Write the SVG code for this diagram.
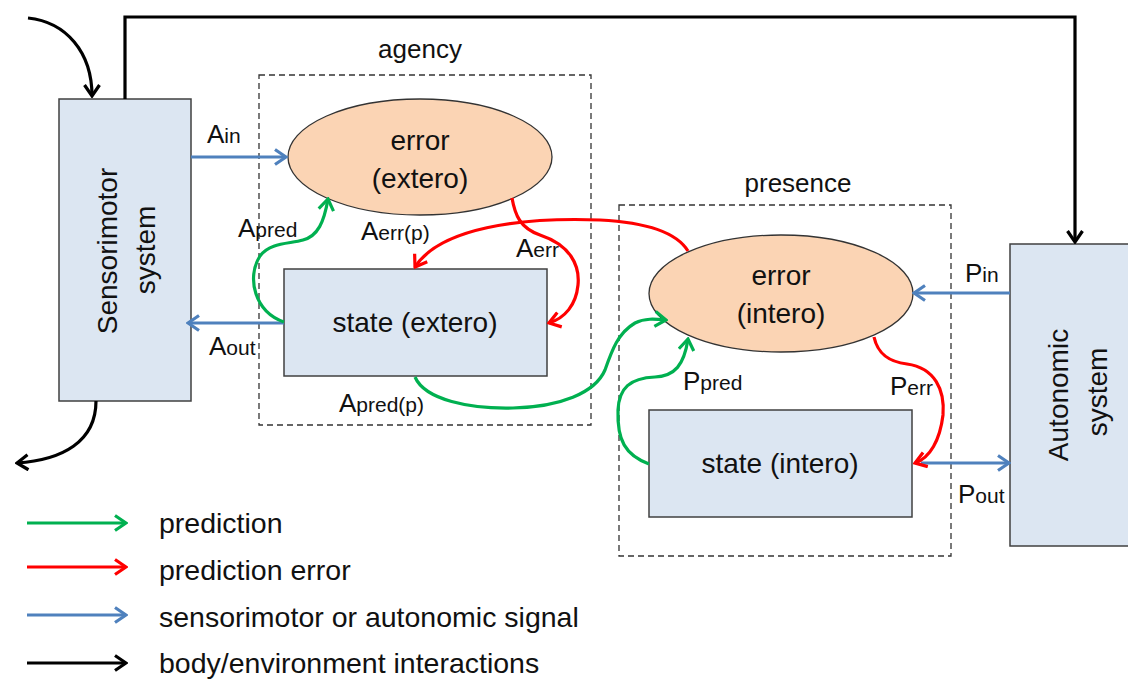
<svg xmlns="http://www.w3.org/2000/svg" width="1128" height="679" viewBox="0 0 1128 679">
<style>
text{font-family:"Liberation Sans",Arial,sans-serif;fill:#111;}
.node{font-size:28px;text-anchor:middle;}
.hdr{font-size:26px;text-anchor:middle;}
.lbl{font-size:26px;}
.sub{font-size:21px;}
.leg{font-size:28.5px;}
.box{fill:#dce6f2;stroke:#404040;stroke-width:1.5;}
.ell{fill:#fbd4b4;stroke:#333;stroke-width:1.3;}
.dash{fill:none;stroke:#333;stroke-width:1.3;stroke-dasharray:6,4;}
.c{fill:none;stroke-width:3.2;}
.g{stroke:#00b050;}
.r{stroke:#ff0000;}
.b{stroke:#4f81bd;}
.k{stroke:#000;}
</style>
<defs>
<marker id="mg" markerUnits="userSpaceOnUse" viewBox="0 0 15 18" refX="13" refY="9" markerWidth="15" markerHeight="18" orient="auto"><path d="M2,1.5 L13,9 L2,16.5" fill="none" stroke="#00b050" stroke-width="3.2"/></marker>
<marker id="mr" markerUnits="userSpaceOnUse" viewBox="0 0 15 18" refX="13" refY="9" markerWidth="15" markerHeight="18" orient="auto"><path d="M2,1.5 L13,9 L2,16.5" fill="none" stroke="#ff0000" stroke-width="3.2"/></marker>
<marker id="mb" markerUnits="userSpaceOnUse" viewBox="0 0 15 18" refX="13" refY="9" markerWidth="15" markerHeight="18" orient="auto"><path d="M2,1.5 L13,9 L2,16.5" fill="none" stroke="#4f81bd" stroke-width="3.2"/></marker>
<marker id="mk" markerUnits="userSpaceOnUse" viewBox="0 0 15 18" refX="13" refY="9" markerWidth="15" markerHeight="18" orient="auto"><path d="M2,1.5 L13,9 L2,16.5" fill="none" stroke="#000" stroke-width="3.2"/></marker>
</defs>
<rect width="1128" height="679" fill="#fff"/>

<g id="agency-group">
<rect class="dash" x="259" y="75" width="332" height="350"/>
<text class="hdr" x="420" y="58">agency</text>
</g>
<g id="presence-group">
<rect class="dash" x="619" y="205" width="332" height="351"/>
<text class="hdr" x="798" y="192">presence</text>
</g>

<g id="sensorimotor">
<rect class="box" x="59" y="99" width="132" height="302"/>
<text class="node" transform="translate(117,251) rotate(-90)" x="0" y="0">Sensorimotor</text>
<text class="node" transform="translate(155,250) rotate(-90)" x="0" y="0">system</text>
</g>
<g id="autonomic">
<rect class="box" x="1010" y="244" width="130" height="302"/>
<text class="node" transform="translate(1068,395) rotate(-90)" x="0" y="0">Autonomic</text>
<text class="node" transform="translate(1107,392) rotate(-90)" x="0" y="0">system</text>
</g>
<g id="error-extero">
<ellipse class="ell" cx="420" cy="157" rx="132" ry="58"/>
<text class="node" x="420" y="150">error</text>
<text class="node" x="420" y="188">(extero)</text>
</g>
<g id="state-extero">
<rect class="box" x="284" y="269" width="263" height="107"/>
<text class="node" x="415" y="332">state (extero)</text>
</g>
<g id="error-intero">
<ellipse class="ell" cx="781" cy="293.5" rx="132" ry="58.5"/>
<text class="node" x="781" y="285">error</text>
<text class="node" x="781" y="323">(intero)</text>
</g>
<g id="state-intero">
<rect class="box" x="649" y="410" width="263" height="107"/>
<text class="node" x="780" y="473">state (intero)</text>
</g>

<g id="connectors">
<path class="c k" d="M125,99 V17 H1075 V242" marker-end="url(#mk)"/>
<path class="c k" d="M28,18 C66,22 92,52 92,96" marker-end="url(#mk)"/>
<path class="c k" d="M96,401 C96,442 62,460 17,463" marker-end="url(#mk)"/>
<path class="c b" d="M191,157 H286" marker-end="url(#mb)"/>
<path class="c b" d="M284,323 H188" marker-end="url(#mb)"/>
<path class="c b" d="M1010,293 H914" marker-end="url(#mb)"/>
<path class="c b" d="M921,463 H1009" marker-end="url(#mb)"/>
<path class="c g" d="M284,322 C255,312 246,278 260,256 C270,242 290,244 303,240 C318,236 324,222 328,199" marker-end="url(#mg)"/>
<path class="c g" d="M415,377 C425,400 470,409 513,408 C560,407 595,393 605,370 C612,350 618,333 635,323 C645,318 655,319 666,320" marker-end="url(#mg)"/>
<path class="c g" d="M649,464 C625,455 617,440 618,410 C619,388 630,378 655,377 C675,376 684,365 688,339" marker-end="url(#mg)"/>
<path class="c r" d="M688,251 C675,230 640,222 600,220 C520,217 440,228 415,267" marker-end="url(#mr)"/>
<path class="c r" d="M512,198 C515,215 520,228 540,235 C570,245 580,265 578,285 C576,305 565,318 549,323" marker-end="url(#mr)"/>
<path class="c r" d="M874,337 C878,355 890,362 907,364 C935,368 945,390 943,415 C940,440 930,458 915,463" marker-end="url(#mr)"/>
</g>

<g id="labels">
<text class="lbl" x="207" y="143">A<tspan class="sub">in</tspan></text>
<text class="lbl" x="238" y="237">A<tspan class="sub">pred</tspan></text>
<text class="lbl" x="361" y="240">A<tspan class="sub">err(p)</tspan></text>
<text class="lbl" x="516" y="257">A<tspan class="sub">err</tspan></text>
<text class="lbl" x="209" y="355">A<tspan class="sub">out</tspan></text>
<text class="lbl" x="339" y="412">A<tspan class="sub">pred(p)</tspan></text>
<text class="lbl" x="683" y="390">P<tspan class="sub">pred</tspan></text>
<text class="lbl" x="890" y="395">P<tspan class="sub">err</tspan></text>
<text class="lbl" x="965" y="282">P<tspan class="sub">in</tspan></text>
<text class="lbl" x="958" y="503">P<tspan class="sub">out</tspan></text>
</g>

<g id="legend">
<path class="c g" d="M27,523 H126" marker-end="url(#mg)"/>
<path class="c r" d="M27,567 H126" marker-end="url(#mr)"/>
<path class="c b" d="M27,615 H126" marker-end="url(#mb)"/>
<path class="c k" d="M27,663 H126" marker-end="url(#mk)"/>
<text class="leg" x="159" y="533">prediction</text>
<text class="leg" x="159" y="580">prediction error</text>
<text class="leg" x="159" y="627">sensorimotor or autonomic signal</text>
<text class="leg" x="159" y="673">body/environment interactions</text>
</g>
</svg>
